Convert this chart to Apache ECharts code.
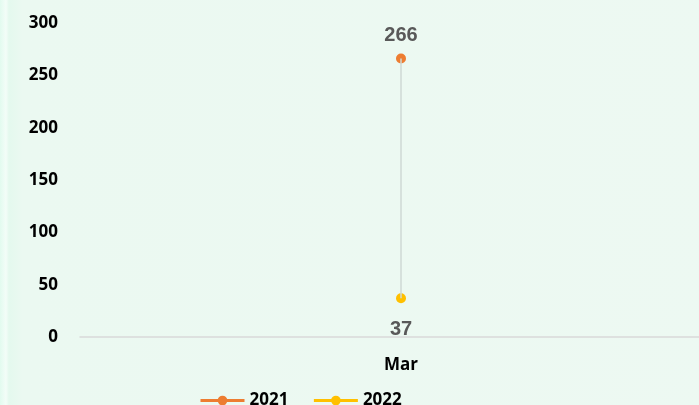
<!DOCTYPE html>
<html>
<head>
<meta charset="utf-8">
<script src="https://cdn.jsdelivr.net/npm/echarts@6/dist/echarts.min.js"></script>
<style>
  html, body { margin: 0; padding: 0; overflow: hidden; }
  /* le graphique déborde à droite, comme sur l'original */
  #chart { width: 745px; height: 405px; }
</style>
</head>
<body>
<div id="chart"></div>
<script>
// données
var categories = ['Mar'];
var serie2021 = [266];
var serie2022 = [37];
var yTicks = [0, 50, 100, 150, 200, 250, 300];

var axisFont = {
    color: '#000',
    fontWeight: 'bold',
    fontFamily: 'Open Sans',
    fontSize: 17
};

var chart = echarts.init(document.getElementById('chart'));
chart.setOption({
    animation: false,
    backgroundColor: {
        type: 'linear', x: 0, y: 0, x2: 1, y2: 0,
        colorStops: [
            { offset: 0, color: '#e2fbef' },
            { offset: 0.008, color: '#f3fdf8' },
            { offset: 0.012, color: '#e4f9ee' },
            { offset: 0.03, color: '#ebf9f1' },
            { offset: 1, color: '#edf9f2' }
        ]
    },
    grid: {
        left: 80,
        right: 23,
        top: 23,
        bottom: 68
    },
    xAxis: {
        type: 'category',
        data: categories,
        axisLine: { lineStyle: { color: '#d9d9d9', width: 1.5 } },
        axisTick: { show: false },
        axisLabel: Object.assign({ margin: 20 }, axisFont)
    },
    yAxis: {
        type: 'value',
        min: yTicks[0],
        max: yTicks[yTicks.length - 1],
        interval: yTicks[1] - yTicks[0],
        splitLine: { show: false },
        axisLine: { show: false },
        axisTick: { show: false },
        axisLabel: Object.assign({ margin: 22 }, axisFont)
    },
    legend: {
        bottom: -9,
        left: 194,
        itemWidth: 44,
        itemHeight: 12,
        itemGap: 24,
        lineStyle: { width: 3 },
        textStyle: axisFont,
        data: ['2021', '2022']
    },
    series: [
        {
            name: '2021',
            type: 'line',
            data: serie2021,
            color: '#ed7d31',
            symbol: 'circle',
            symbolSize: 10,
            lineStyle: { width: 3 },
            label: {
                show: true,
                position: 'top',
                distance: 8,
                color: '#595959',
                fontWeight: 'bold',
                fontFamily: 'Liberation Sans',
                fontSize: 20
            },
            // ligne haut-bas entre les deux séries
            markLine: {
                silent: true,
                symbol: 'none',
                label: { show: false },
                lineStyle: { color: '#cfd8d4', width: 1.5, type: 'solid' },
                data: [[
                    { coord: [categories[0], serie2021[0]] },
                    { coord: [categories[0], serie2022[0]] }
                ]]
            },
            z: 3
        },
        {
            name: '2022',
            type: 'line',
            data: serie2022,
            color: '#ffc000',
            symbol: 'circle',
            symbolSize: 10,
            lineStyle: { width: 3 },
            label: {
                show: true,
                position: 'bottom',
                distance: 16,
                color: '#595959',
                fontWeight: 'bold',
                fontFamily: 'Liberation Sans',
                fontSize: 20
            },
            z: 3
        }
    ]
});
</script>
</body>
</html>
